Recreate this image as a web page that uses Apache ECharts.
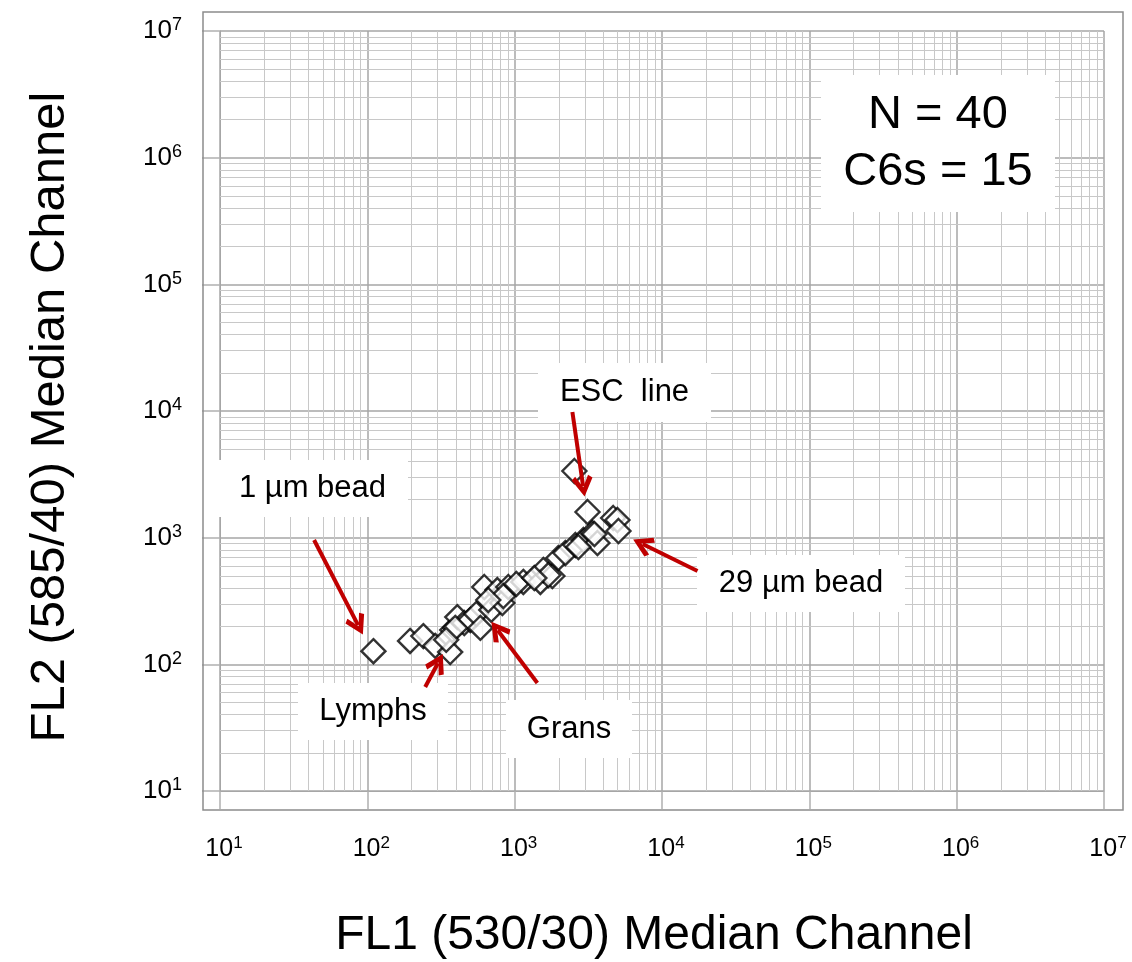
<!DOCTYPE html>
<html>
<head>
<meta charset="utf-8">
<script src="https://cdn.jsdelivr.net/npm/echarts@6/dist/echarts.min.js"></script>
<style>
html, body { margin: 0; padding: 0; background: #fff; }
#chart { width: 1132px; height: 962px; }
</style>
</head>
<body>
<div id="chart"></div>
<script>
// median channel per sample (FL1 = x, FL2 = y)
const fl1 = [110, 195, 240, 289, 365, 377, 408, 455, 500, 549, 585, 622, 694, 763, 825, 906, 838, 1145, 1494, 1566,
  1803, 1693, 1981, 2210, 2584, 2929, 3371, 3646, 3122, 2543, 4664, 4985, 5064, 662, 395, 1026, 2707, 3478, 343, 1360];
const fl2 = [127, 153, 167, 140, 125, 187, 236, 212, 224, 250, 194, 408, 269, 386, 305, 408, 346, 447, 447, 556,
  498, 507, 691, 757, 875, 958, 1088, 908, 1595, 3360, 1430, 1379, 1129, 322, 194, 431, 844, 1069, 156, 480];

// log grid
const decadeExp = [1, 2, 3, 4, 5, 6];
const minorSteps = [2, 3, 4, 5, 6, 7, 8, 9];

// arrows (data coords): tail -> head
const arrowFrom = [[43.5, 958], [247, 66.2], [2465, 9817], [17420, 546], [1426, 71.2]];
const arrowTo = [[86.5, 204], [301, 102], [2914, 2553], [7382, 891], [767, 186]];

const FONT = "'Liberation Sans', Arial, sans-serif";
const chevron = 'path://M50,0 L100,84 L81,100 L50,44 L19,100 L0,84 Z';

let minorVals = [];
decadeExp.forEach(e => minorSteps.forEach(s => minorVals.push(s * Math.pow(10, e))));

const points = fl1.map((x, i) => [x, fl2[i]]);

function axisLabel(fs, sfs) {
  return {
    formatter: v => '{b|10}{s|' + Math.round(Math.log10(v)) + '}',
    rich: {
      b: { fontSize: fs, lineHeight: fs + 3, fontFamily: FONT, color: '#000' },
      s: { fontSize: sfs, lineHeight: sfs, verticalAlign: 'top', fontFamily: FONT, color: '#000' }
    }
  };
}

function box(x, y, w, h, lines, fs) {
  let children = [{
    type: 'rect', z: 50, shape: { x: 0, y: 0, width: w, height: h },
    style: { fill: '#fff' }
  }];
  lines.forEach((t, i) => {
    children.push({
      type: 'text', z: 51, x: w / 2, y: h / 2 + (i - (lines.length - 1) / 2) * fs * 1.23,
      style: { text: t, fontSize: fs, fontFamily: FONT, fill: '#000', align: 'center', verticalAlign: 'middle' }
    });
  });
  return { type: 'group', x: x, y: y, z: 50, children: children };
}

let chart = echarts.init(document.getElementById('chart'));
const option = {
  animation: false,
  grid: { left: 220, right: 28, top: 31, bottom: 171, containLabel: false, outerBoundsMode: 'none' },
  xAxis: {
    type: 'log', logBase: 10, min: 10, max: 1e7, splitNumber: 6,
    name: 'FL1 (530/30) Median Channel',
    nameLocation: 'middle', nameGap: 121,
    nameTextStyle: { fontSize: 48, fontFamily: FONT, color: '#000', padding: [0, 16, 0, 0] },
    axisLine: { show: true, lineStyle: { color: '#a6a6a6' } },
    axisTick: { show: true, length: 18, lineStyle: { color: '#b0b0b0', width: 1.5 } },
    axisLabel: Object.assign({ margin: 44, padding: [0, 0, 0, 8] }, axisLabel(25, 17)),
    splitLine: { show: true, lineStyle: { color: '#a6a6a6', width: 1.5 } },
    minorTick: { show: false }
  },
  yAxis: {
    type: 'log', logBase: 10, min: 10, max: 1e7, splitNumber: 6,
    name: 'FL2 (585/40) Median Channel',
    nameLocation: 'middle', nameGap: 145,
    nameTextStyle: { fontSize: 49, fontFamily: FONT, color: '#000', padding: [0, 12, 0, 0] },
    axisLine: { show: true, lineStyle: { color: '#a6a6a6' } },
    axisTick: { show: true, length: 18, lineStyle: { color: '#b0b0b0', width: 1.5 } },
    axisLabel: Object.assign({ margin: 38 }, axisLabel(26, 18)),
    splitLine: { show: true, lineStyle: { color: '#a6a6a6', width: 1.5 } }
  },
  graphic: [
    {
      type: 'rect', z: 40, silent: true,
      shape: { x: 203, y: 12, width: 920, height: 798 },
      style: { fill: null, stroke: '#8c8c8c', lineWidth: 1.5 }
    },
    box(821, 75, 234, 137, ['N = 40', 'C6s = 15'], 47),
    box(217, 460, 191, 57, ['1 µm bead'], 31),
    box(298, 683, 150, 57, ['Lymphs'], 31),
    box(538, 363, 173, 59, ['ESC  line'], 31),
    box(697, 555, 208, 57, ['29 µm bead'], 31),
    box(506, 700, 126, 58, ['Grans'], 31)
  ],
  series: [
    {
      type: 'line', data: [], z: 1, silent: true,
      markLine: {
        silent: true, symbol: 'none', label: { show: false },
        lineStyle: { color: '#c8c8c8', width: 1, type: 'solid' },
        emphasis: { disabled: true },
        data: minorVals.map(v => ({ xAxis: v })).concat(minorVals.map(v => ({ yAxis: v })))
      }
    },
    {
      type: 'scatter', z: 5,
      symbol: 'diamond', symbolSize: 24,
      itemStyle: { color: '#fff', borderColor: '#000', borderWidth: 2.4 },
      data: points
    },
    {
      type: 'line', data: [], z: 60, silent: true,
      markLine: {
        silent: true, z: 60,
        symbol: ['none', chevron], symbolSize: [21, 21],
        label: { show: false },
        lineStyle: { color: '#c00000', width: 4, type: 'solid' },
        emphasis: { disabled: true },
        data: arrowFrom.map((p, i) => [{ coord: p }, { coord: arrowTo[i] }])
      }
    }
  ]
};
chart.setOption(option);
</script>
</body>
</html>
